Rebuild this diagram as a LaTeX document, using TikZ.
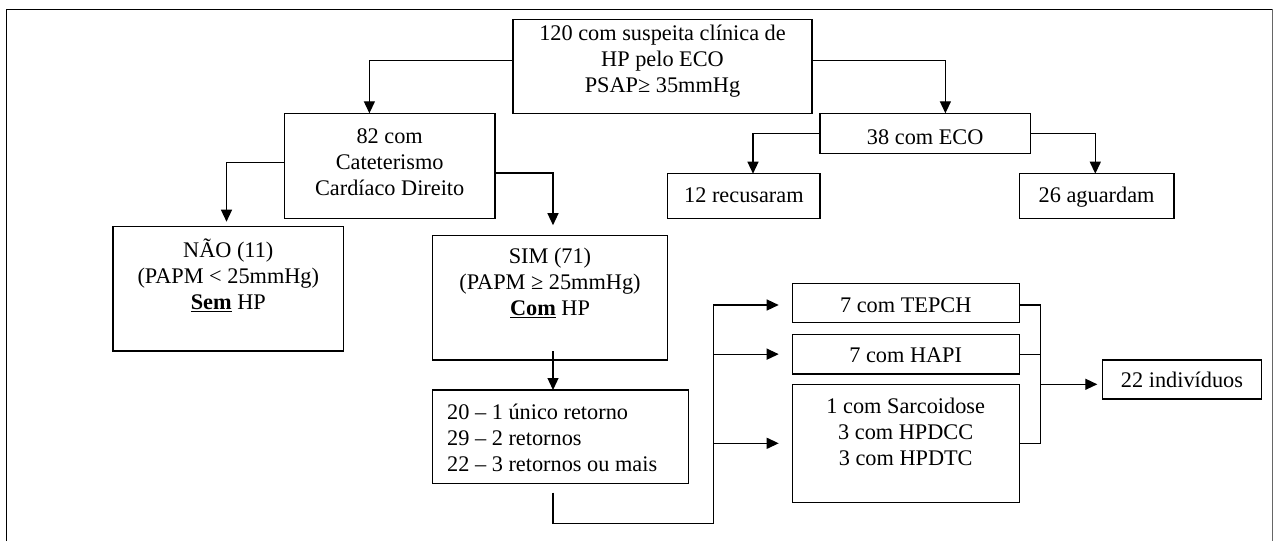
\documentclass[tikz,border=0pt]{standalone}
\usepackage{fontspec}
\setmainfont{Liberation Serif}
\usetikzlibrary{arrows.meta}
\begin{document}
\begin{tikzpicture}[x=1pt,y=-1pt,
  box/.style={draw, line width=1.35pt, outer sep=0pt, inner sep=0pt, anchor=north west},
  txt/.style={font=\fontsize{22.3}{26}\selectfont, align=center, inner sep=0pt},
  one/.style={txt, text height=15pt, text depth=0pt},
  conn/.style={line width=1.3pt},
  arr/.style={conn, -{Triangle[length=12pt,width=11pt]}}]
\useasboundingbox (0,0) rectangle (1274,541);
% frame
\draw[line width=1.6pt] (6.5,541) -- (6.5,9.3) -- (1272.7,9.3);
\draw[line width=1.2pt, black!60] (1272.7,9.3) -- (1272.7,541);
% boxes
\node[box, minimum width=299pt, minimum height=94pt] (top) at (513,19.3) {};
\node[box, minimum width=210.5pt, minimum height=105pt] (b82) at (284.5,113.3) {};
\node[box, minimum width=210.4pt, minimum height=40pt] (eco) at (820,113.3) {};
\node[box, minimum width=152.2pt, minimum height=44.6pt] (rec) at (667.8,173.7) {};
\node[box, minimum width=154.7pt, minimum height=44.6pt] (agu) at (1019.3,173.7) {};
\node[box, minimum width=230.7pt, minimum height=124.3pt] (nao) at (113,226.7) {};
\node[box, minimum width=235.1pt, minimum height=124.3pt] (sim) at (432.7,235.7) {};
\node[box, minimum width=256pt, minimum height=93.3pt] (ret) at (432.7,390) {};
\node[box, minimum width=227.1pt, minimum height=39.4pt] (tep) at (792.2,283.3) {};
\node[box, minimum width=227.1pt, minimum height=39.7pt] (hapi) at (792.2,334.3) {};
\node[box, minimum width=227.1pt, minimum height=118pt] (b3) at (792.2,384.3) {};
\node[box, minimum width=159.3pt, minimum height=39pt] (ind) at (1102.3,360) {};
% texts
\node[txt] (topt) at (662.5,61) {120 com suspeita clínica de\\HP pelo ECO\\PSAP≥ 35mmHg};
\node[txt] (b82t) at (389.7,162) {82 com\\Cateterismo\\Cardíaco Direito};
\node[one] (ecot) at (925.2,136.7) {38 com ECO};
\node[one] (rect) at (743.9,195) {12 recusaram};
\node[one] (agut) at (1096.6,195) {26 aguardam};
\node[txt] (naot) at (228.3,275) {NÃO (11)\\(PAPM < 25mmHg)\\\underline{\textbf{Sem}} HP};
\node[txt] (simt) at (550,283) {SIM (71)\\(PAPM ≥ 25mmHg)\\\underline{\textbf{Com}} HP};
\node[txt, align=left, anchor=west] (rett) at (447,438) {20 – 1 único retorno\\29 – 2 retornos\\22 – 3 retornos ou mais};
\node[one] (tept) at (905.7,305) {7 com TEPCH};
\node[one] (hapit) at (905.7,355) {7 com HAPI};
\node[txt] (b3t) at (905.7,431.7) {1 com Sarcoidose\\3 com HPDCC\\3 com HPDTC};
\node[one] (indt) at (1182,379.5) {22 indivíduos};
% connectors
\draw[arr] ([yshift=5.6pt]top.west) -| ([xshift=-20.35pt]b82.north);
\draw[arr] ([yshift=5.6pt]top.east) -| ([xshift=20.2pt]eco.north);
\draw[arr, shorten >=5pt] ([yshift=3.5pt]b82.west) -| ([xshift=-1.85pt]nao.north);
\draw[arr, shorten >=10.5pt] ([yshift=-7.2pt]b82.east) -| ([xshift=2.75pt]sim.north);
\draw[arr] (eco.west) -| ([xshift=9.1pt]rec.north);
\draw[arr] (eco.east) -| ([xshift=-1.35pt]agu.north);
\coordinate (s1) at ([xshift=2.75pt,yshift=9pt]sim.south);
\draw[arr] (s1) -- (s1 |- ret.north);
\coordinate (r1) at ([xshift=-7.7pt,yshift=-9.4pt]ret.south);
\coordinate (busb) at (713.4,523.3);
\coordinate (bust) at (713.4,305);
\draw[conn] (r1) |- (busb) -- (bust);
\draw[arr, shorten >=13.5pt] (bust) -- (bust -| tep.west);
\draw[arr, shorten >=13.5pt] (busb |- hapi.west) -- (hapi.west);
\draw[arr, shorten >=13.5pt] (busb |- b3.west) -- (b3.west);
\coordinate (jx) at (1040.5,384.3);
\draw[conn] ([yshift=-2pt]tep.east) -| (jx);
\draw[conn] (hapi.east) -- (hapi.east -| jx);
\draw[conn] (b3.east) -| (jx);
\draw[arr, shorten >=5pt] (jx) -- (jx -| ind.west);
\end{tikzpicture}
\end{document}
